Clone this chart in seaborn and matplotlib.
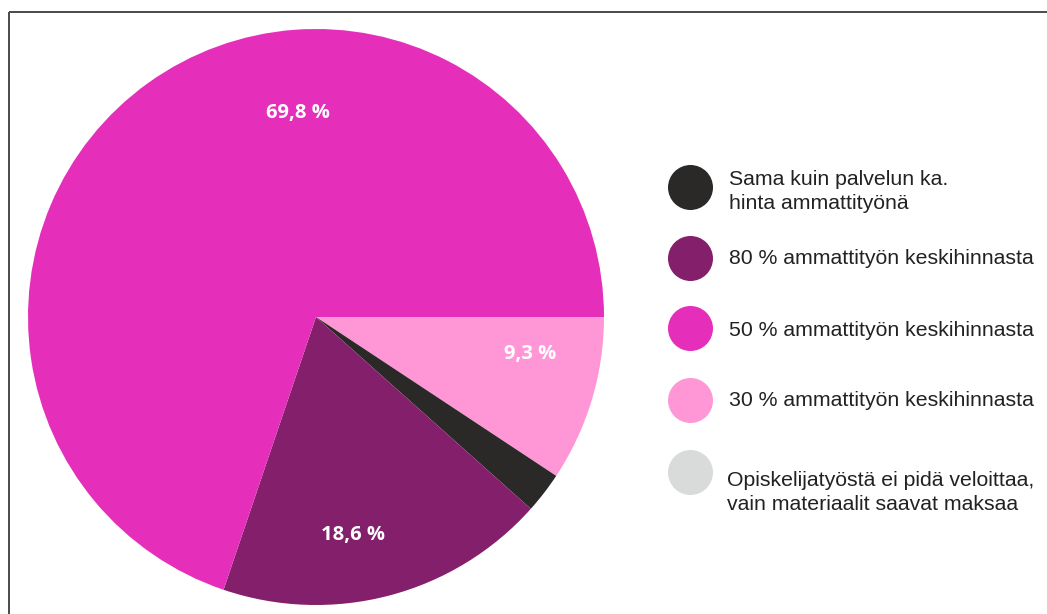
import matplotlib
matplotlib.use("Agg")
import matplotlib.pyplot as plt
import seaborn as sns
from matplotlib.lines import Line2D

categories = [
    "30 % ammattityön keskihinnasta",
    "Sama kuin palvelun ka.\nhinta ammattityönä",
    "80 % ammattityön keskihinnasta",
    "50 % ammattityön keskihinnasta",
    "Opiskelijatyöstä ei pidä veloittaa,\nvain materiaalit saavat maksaa",
]
values = [9.3, 2.3, 18.6, 69.8, 0.0]
value_labels = ["9,3 %", "", "18,6 %", "69,8 %", ""]
colors = ["#FF96D6", "#2A2928", "#841F6B", "#E52FBB", "#D9DADA"]
legend_order = [1, 2, 3, 0, 4]

sns.set_theme(style="white")
palette = sns.color_palette(colors)

fig = plt.figure(figsize=(10.47, 6.14), dpi=100)
W, H = 1047, 614

# pie axes
ax = fig.add_axes([28 / W, (H - 605) / H, 576 / W, 576 / H])
ax.pie(values, colors=palette, startangle=0, counterclock=False, radius=1,
       wedgeprops=dict(linewidth=0))
ax.set_xlim(-1, 1)
ax.set_ylim(-1, 1)
ax.set_aspect("equal")
ax.axis("off")

label_pos = {0: (0.743, -0.128), 2: (0.128, -0.757), 3: (-0.0625, 0.708)}
for i, (x, y) in label_pos.items():
    ax.text(x, y, value_labels[i], color="white", fontsize=14.5, fontweight="bold",
            family="Open Sans", ha="center", va="center")

# overlay axes in pixel coords for legend and frame
lg = fig.add_axes([0, 0, 1, 1])
lg.set_xlim(0, W)
lg.set_ylim(H, 0)
lg.axis("off")
lg.patch.set_alpha(0)

# frame lines (left + top)
lg.add_line(Line2D([8.5, 8.5], [11.5, H], color="#4a4a4a", lw=1.4,
                   solid_capstyle="butt"))
lg.add_line(Line2D([8.5, W], [11.5, 11.5], color="#4a4a4a", lw=1.4,
                   solid_capstyle="butt"))

marker_y = [186.7, 257.7, 328.3, 400, 472.3]
text_lines_y = [[179.3, 203.3], [258.3], [330], [400.7], [480, 504]]
text_x = [729.3, 729.3, 729.3, 729.3, 726.7]
for k, idx in enumerate(legend_order):
    lg.scatter([690], [marker_y[k]], s=1050, color=palette[idx], linewidths=0)
    for line, y in zip(categories[idx].split("\n"), text_lines_y[k]):
        lg.text(text_x[k], y, line, fontsize=15.3, family="Liberation Sans",
                color="#222222", ha="left", va="center")

fig.savefig("out.png", dpi=100, facecolor="white")
